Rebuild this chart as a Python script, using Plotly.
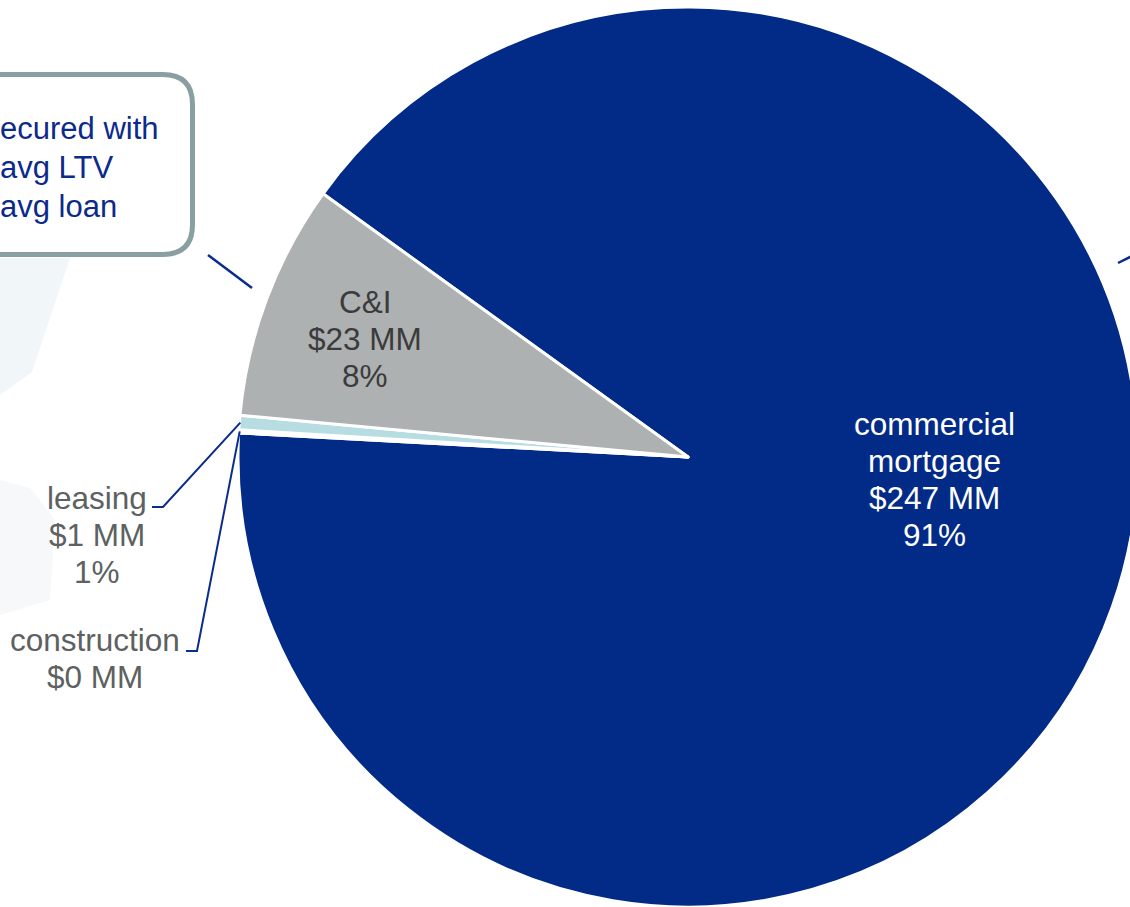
import plotly.graph_objects as go
import math

# Loan portfolio composition ($ MM)
categories = ["commercial\nmortgage", "construction", "leasing", "C&I"]
values = [247.0, 0.3, 1.4, 23.0]
colors = ["#022a87", "#ffffff", "#b7dde3", "#adb1b1"]

callout_lines = ["ecured with", "avg LTV", "avg loan"]

W, H = 1140, 907
CX, CY, R = 688, 457, 450          # pie centre / radius in pixels
ROTATION = -54.2                    # start angle of first slice (deg, clockwise from 12 o'clock)
FONT = "Liberation Sans, Arial, sans-serif"
NAVY = "#0a2d8c"


def px(x):
    return x / W


def py(y):
    return 1 - y / H


total = sum(values)
shares = [v / total for v in values]


def slice_mid_point(i, radius=R):
    start = ROTATION + 360 * sum(shares[:i])
    mid = start + 180 * shares[i]
    a = math.radians(mid)
    return CX + radius * math.sin(a), CY - radius * math.cos(a)


fig = go.Figure(
    go.Pie(
        labels=[c.replace("\n", " ") for c in categories],
        values=values,
        sort=False,
        direction="clockwise",
        rotation=ROTATION,
        marker=dict(colors=colors, line=dict(color="white", width=3)),
        textinfo="none",
        hoverinfo="label+value+percent",
        showlegend=False,
        domain=dict(x=[px(CX - R), px(CX + R)], y=[py(CY + R), py(CY - R)]),
    )
)

annotations = []
shapes = []


def add_lines(lines, x, y0, color, step=37, size=31.5):
    for k, t in enumerate(lines):
        annotations.append(dict(
            x=px(x), y=py(y0 + k * step), xref="paper", yref="paper",
            text=t, showarrow=False, xanchor="center", yanchor="middle",
            font=dict(family=FONT, size=size, color=color),
        ))


def money(v):
    return f"${v:.0f} MM"


def pct(s):
    return f"{s * 100:.0f}%"


# inside labels
add_lines(categories[0].split("\n") + [money(values[0]), pct(shares[0])], 934, 424, "white")
add_lines([categories[3], money(values[3]), pct(shares[3])], 365, 302, "#3b3b3b")

# outside labels with elbow leader lines
add_lines([categories[2], money(values[2]), pct(shares[2])], 97, 498, "#5d6161")
add_lines([categories[1], money(values[1])], 95, 640, "#5d6161")

for idx, elbow, end in [(2, (163, 507), 152), (1, (197, 651), 186)]:
    sx, sy = slice_mid_point(idx, R - 1)
    shapes.append(dict(
        type="path", xref="paper", yref="paper",
        path=f"M {px(sx)},{py(sy)} L {px(elbow[0])},{py(elbow[1])} L {px(end)},{py(elbow[1])}",
        line=dict(color=NAVY, width=2),
    ))

# faint background artwork
shapes.append(dict(type="path", xref="paper", yref="paper", layer="below",
                   path=f"M {px(0)},{py(258)} L {px(70)},{py(258)} L {px(32)},{py(372)} L {px(0)},{py(395)} Z",
                   fillcolor="#f1f6f8", line=dict(width=0)))
shapes.append(dict(type="path", xref="paper", yref="paper", layer="below",
                   path=f"M {px(0)},{py(480)} L {px(30)},{py(488)} L {px(55)},{py(520)} L {px(50)},{py(600)} L {px(0)},{py(615)} Z",
                   fillcolor="#f7f8f9", line=dict(width=0)))

# rounded callout box
bx0, by0, bx1, by1, rr = -40, 74.5, 192.5, 254.5, 30
box_path = (
    f"M {px(bx0)},{py(by0)} L {px(bx1 - rr)},{py(by0)} "
    f"Q {px(bx1)},{py(by0)} {px(bx1)},{py(by0 + rr)} "
    f"L {px(bx1)},{py(by1 - rr)} "
    f"Q {px(bx1)},{py(by1)} {px(bx1 - rr)},{py(by1)} "
    f"L {px(bx0)},{py(by1)} Z"
)
shapes.append(dict(type="path", xref="paper", yref="paper", path=box_path,
                   fillcolor="white", line=dict(color="#8a9fa2", width=5)))
for k, t in enumerate(callout_lines):
    annotations.append(dict(
        x=px(-2), y=py(128 + k * 39), xref="paper", yref="paper",
        text=t, showarrow=False, xanchor="left", yanchor="middle",
        font=dict(family=FONT, size=31, color="#0b2a8a"),
    ))

# callout connector lines
shapes.append(dict(type="line", xref="paper", yref="paper",
                   x0=px(208), y0=py(255), x1=px(252), y1=py(288),
                   line=dict(color=NAVY, width=2.5)))
shapes.append(dict(type="line", xref="paper", yref="paper",
                   x0=px(1118), y0=py(263), x1=px(1142), y1=py(251),
                   line=dict(color=NAVY, width=2.5)))

fig.update_layout(
    width=W, height=H,
    margin=dict(l=0, r=0, t=0, b=0),
    paper_bgcolor="white", plot_bgcolor="white",
    annotations=annotations, shapes=shapes,
)

fig.write_html(
    "out.html",
    config={"displayModeBar": False},
    post_script=(
        "document.documentElement.style.overflow='hidden';"
        "document.body.style.overflow='hidden';"
        "document.body.style.margin='0';"
    ),
)
